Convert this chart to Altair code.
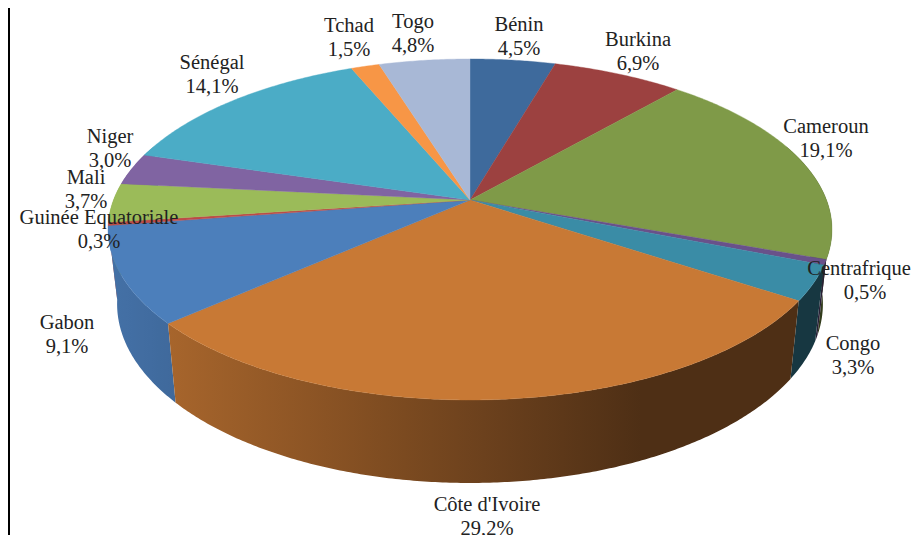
import math
import altair as alt
import pandas as pd

names = ["Bénin", "Burkina", "Cameroun", "Centrafrique", "Congo", "Côte d'Ivoire", "Gabon",
         "Guinée Equatoriale", "Mali", "Niger", "Sénégal", "Tchad", "Togo"]
shares = [4.5, 6.9, 19.1, 0.5, 3.3, 29.2, 9.1, 0.3, 3.7, 3.0, 14.1, 1.5, 4.8]
colors = ["#3E6A9C", "#9C4140", "#7F9A48", "#69518A", "#3A8CA6", "#C87935", "#4C7FBB",
          "#BE4B48", "#9BBB59", "#8064A2", "#4BACC6", "#F79646", "#A8B8D6"]
label_x = [519, 638, 826, 859, 853, 487, 67, 99, 86, 110, 212, 349, 413]
label_y = [25, 40, 127, 269, 344, 505, 323, 218, 178, 137, 63, 26, 22]

CX, CY, R, S, P = 470.0, 200.0, 356.5, 165.4, 0.1729
PAD, FONT = 8, "Liberation Serif"


def top(t):
    a = math.radians(t)
    w = 1 + P * math.cos(a)
    return CX + R * math.sin(a) / w, CY - S * math.cos(a) / w


def bottom(t):
    x, y = top(t)
    return CX + 0.975 * (x - CX), 1.05 * y + 63


def shade(hex_color, f):
    r, g, b = (int(hex_color[i:i + 2], 16) for i in (1, 3, 5))
    return "#%02x%02x%02x" % (round(r * f), round(g * f), round(b * f))


def factor(x):
    return max(0.39, min(0.88, 0.84 - (x - 165) * (0.45 / 475)))


def steps(t0, t1, size):
    n = max(2, int((t1 - t0) / size) + 1)
    return [t0 + (t1 - t0) * k / n for k in range(n + 1)]


total = sum(shares)
bounds = [0.0]
for s in shares:
    bounds.append(bounds[-1] + s * 360 / total)

W, H = 919 - PAD * 2, 535 - PAD
xs = alt.X("x:Q", scale=alt.Scale(domain=[PAD, PAD + W]), axis=None)
ys = alt.Y("y:Q", scale=alt.Scale(domain=[PAD + H, PAD]), axis=None)

side_layers, top_rows = [], []
for i, color in enumerate(colors):
    t0, t1 = bounds[i], bounds[i + 1]
    ts = steps(t0, t1, 0.5)
    poly = [(CX, CY)] + [top(t) for t in ts] + [(CX, CY)]
    top_rows.extend({"g": f"t{i}", "o": j, "x": p[0], "y": p[1], "c": color} for j, p in enumerate(poly))
    a, b = max(t0, 70.0), min(t1, 290.0)
    if a < b:
        arc = steps(a, b, 0.5)
        pts = [top(t) for t in arc] + [bottom(t) for t in reversed(arc)]
        x0, x1 = min(p[0] for p in pts), max(p[0] for p in pts)
        stops = [alt.GradientStop(offset=k / 8, color=shade(color, factor(x0 + (x1 - x0) * k / 8)))
                 for k in range(9)]
        gradient = alt.Gradient(gradient="linear", x1=0, x2=1, y1=0, y2=0, stops=stops)
        rows = [{"o": j, "x": p[0], "y": p[1]} for j, p in enumerate(pts + [pts[0]])]
        my = sum(p[1] for p in pts) / len(pts)
        layer = alt.Chart(pd.DataFrame(rows)).mark_line(filled=True, fill=gradient, clip=True).encode(
            x=xs, y=ys, order="o:Q")
        side_layers.append((my, layer))
side_layers.sort(key=lambda q: q[0])

labels = []
for n, s, x, y in zip(names, shares, label_x, label_y):
    labels.append({"x": x, "y": y, "t": n})
    labels.append({"x": x + (6 if n == "Centrafrique" else 0), "y": y + 24, "t": f"{s:.1f}%".replace(".", ",")})

tops = alt.Chart(pd.DataFrame(top_rows)).mark_line(filled=True, strokeWidth=0.4, clip=True).encode(
    x=xs, y=ys, order="o:Q", detail="g:N",
    fill=alt.Fill("c:N", scale=None, legend=None),
    stroke=alt.Stroke("c:N", scale=None, legend=None),
)
texts = alt.Chart(pd.DataFrame(labels)).mark_text(
    font=FONT, fontSize=20.5, color="#222222", align="center", baseline="middle"
).encode(x=xs, y=ys, text="t:N")
frame = alt.Chart(pd.DataFrame({"x": [9], "y": [PAD], "y2": [PAD + H]})).mark_rule(
    color="black", strokeWidth=2
).encode(x=xs, y=ys, y2="y2:Q")

chart = alt.layer(*[l for _, l in side_layers], tops, texts, frame).properties(
    width=W, height=H, padding=0, autosize=alt.AutoSizeParams(type="none"), background="white"
).configure_view(stroke=None)

chart.save("out.html", embed_options={"renderer": "svg", "actions": False})
